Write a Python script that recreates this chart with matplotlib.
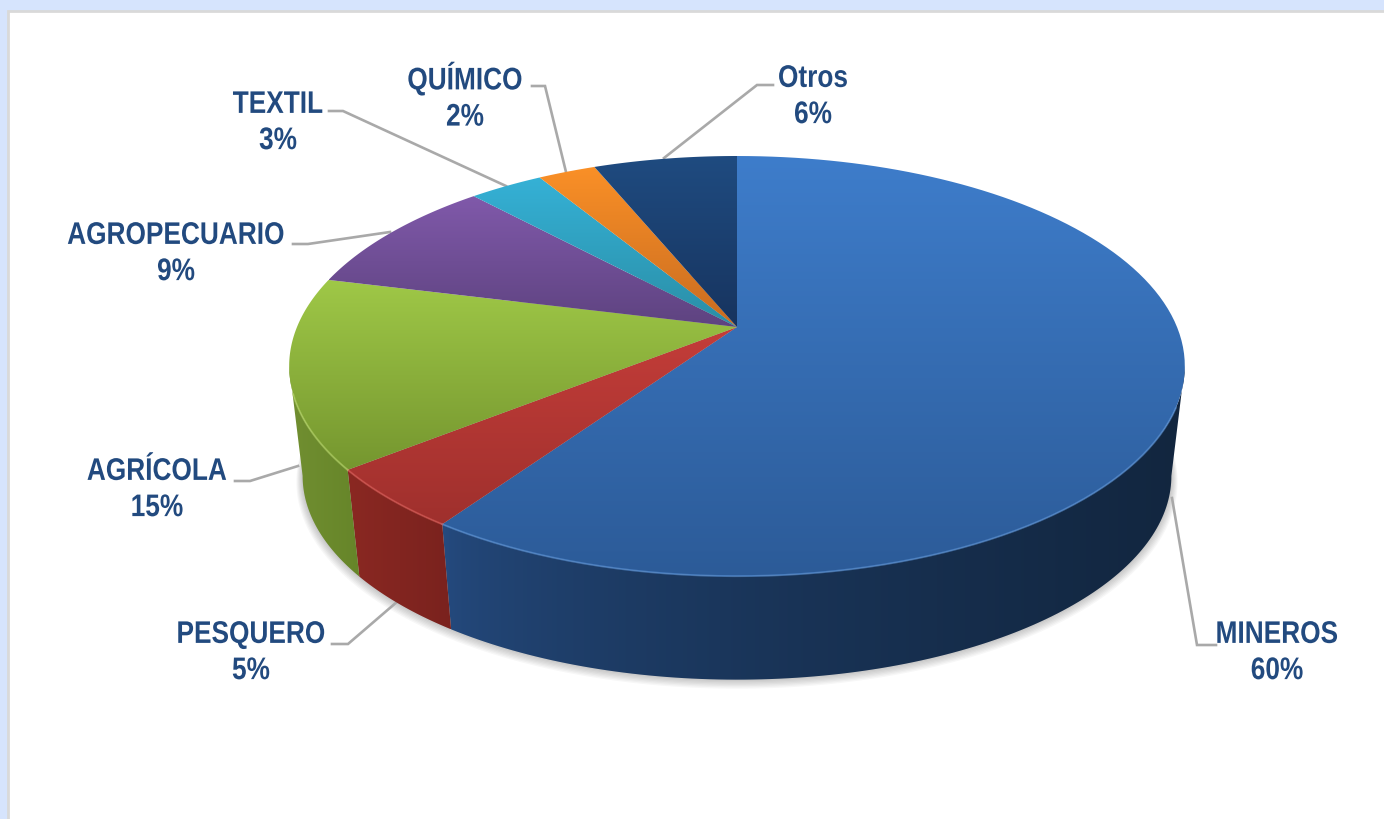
import matplotlib
matplotlib.use("Agg")
import matplotlib.pyplot as plt
from matplotlib.patches import Polygon, Rectangle
from matplotlib.patheffects import AbstractPathEffect
from matplotlib.transforms import Affine2D
import numpy as np

# share of each sector, clockwise from the top
sectores = ['MINEROS', 'PESQUERO', 'AGRÍCOLA', 'AGROPECUARIO', 'TEXTIL', 'QUÍMICO', 'Otros']
valores = [59.6, 4.7, 14.6, 9.2, 3.2, 2.5, 6.2]
etiquetas = ['60%', '5%', '15%', '9%', '3%', '2%', '6%']

# colours: top start, top end, side left, side right
top_a = ['#3e7dcb', '#c43d39', '#9fc847', '#8059aa', '#35b1d6', '#fa9027', '#1f4b80']
top_b = ['#2c5b98', '#9f302d', '#75962f', '#5e4380', '#2a8ea6', '#c96c20', '#17345f']
side_a = ['#254b80', '#8a2822', '#718f31', '#4a3366', '#206f85', '#a05518', '#102a4c']
side_b = ['#12263f', '#7a221e', '#668529', '#4a3366', '#206f85', '#a05518', '#102a4c']
rim = ['#5a93d8', '#dc5a55', '#b5d566', '#8059aa', '#35b1d6', '#fa9027', '#1f4b80']

# label centre x, centre y and leader polyline
lab_x = [1277, 251, 157, 176, 278, 465, 813]
lab_y = [653, 653, 490, 254, 123, 97, 97]
leaders = [[(1216, 645), (1197, 645), (1172, 498)],
           [(332, 644), (348, 644), (398, 601)],
           [(235, 481), (250, 481), (298, 466)],
           [(293, 244), (308, 244), (390, 232)],
           [(329, 111), (343, 111), (506, 186)],
           [(532, 86), (545, 86), (566, 172)],
           [(773, 85), (757, 85), (664, 158)]]

k = 0.186
cx = 737
fig = plt.figure(figsize=(13.84, 8.19), dpi=100)
ax = fig.add_axes([0, 0, 1, 1])
ax.set_xlim(0, 1384)
ax.set_ylim(819, 0)
ax.axis('off')
fig.patch.set_facecolor('#d6e4fd')
ax.add_patch(Rectangle((8, 11), 1400, 830, fc='white', ec='#d9d9d9', lw=2))


class Estrecha(AbstractPathEffect):
    # squeeze the glyphs sideways, no condensed bold font is installed
    def __init__(self, x0, f):
        self.x0 = x0
        self.f = f

    def draw_path(self, renderer, gc, tpath, affine, rgbFace=None):
        tr = affine + Affine2D().translate(-self.x0, 0).scale(self.f, 1).translate(self.x0, 0)
        renderer.draw_path(gc, tpath, tr, rgbFace)


def disco(t, escala, y0):
    # perspective view of the circle, t clockwise from the top
    u = np.sin(t)
    v = -np.cos(t)
    w = 1 - k * v
    return np.column_stack([cx + escala * 440 * u / w, y0 + escala * 202.8 * v / w])


def hex2rgb(c):
    return np.array(matplotlib.colors.to_rgb(c))


def degradado(pts, c1, c2, vertical=True, curva=1.0):
    xa, ya = pts.min(axis=0)
    xb, yb = pts.max(axis=0)
    s = np.linspace(0, 1, 256) ** curva
    col = hex2rgb(c1)[None, :] * (1 - s[:, None]) + hex2rgb(c2)[None, :] * s[:, None]
    img = col[:, None, :] if vertical else col[None, :, :]
    im = ax.imshow(img, extent=(xa, xb, yb, ya), origin='upper', aspect='auto', interpolation='bilinear', zorder=3)
    pol = Polygon(pts, closed=True, fc='none', ec='none', transform=ax.transData)
    ax.add_patch(pol)
    im.set_clip_path(pol)


# shadow under the pie
tt = np.linspace(0, 2 * np.pi, 400)
for i in range(8):
    sombra = disco(tt, 0.97 + i * 0.002, 438 + i * 0.8)
    ax.add_patch(Polygon(sombra, closed=True, fc='black', ec='none', alpha=0.03, zorder=2))

lim = np.cumsum([0] + valores) / 100 * 2 * np.pi

# side walls, only the part facing the viewer
t_der = np.arccos(-k)
t_izq = 2 * np.pi - t_der
for i in range(len(valores)):
    ta = max(lim[i], t_der)
    tb = min(lim[i + 1], t_izq)
    if ta >= tb:
        continue
    t = np.linspace(ta, tb, 120)
    pts = np.vstack([disco(t, 1, 327), disco(t[::-1], 0.97, 438)])
    degradado(pts, side_a[i], side_b[i], vertical=False, curva=0.6 if i == 0 else 1.0)

# tops and the light rim on the front edge
for i in range(len(valores)):
    t = np.linspace(lim[i], lim[i + 1], 120)
    pts = np.vstack([[cx, 327], disco(t, 1, 327)])
    degradado(pts, top_a[i], top_b[i])
    tf = t[(t > np.pi * 0.62) & (t < np.pi * 1.4)]
    if len(tf):
        bor = disco(tf, 1, 327)
        ax.plot(bor[:, 0], bor[:, 1], color=rim[i], lw=1.4, alpha=0.6, zorder=4)

ax.set_xlim(0, 1384)
ax.set_ylim(819, 0)

for i in range(len(sectores)):
    xs, ys = zip(*leaders[i])
    ax.plot(xs, ys, color='#a9a9a9', lw=1.9, zorder=2.5, solid_joinstyle='miter')
    ax.text(lab_x[i], lab_y[i], sectores[i] + '\n' + etiquetas[i], ha='center', va='center', color='#224a7f',
            fontsize=22.5, fontweight='bold', linespacing=1.27, family=['Liberation Sans', 'DejaVu Sans'],
            path_effects=[Estrecha(lab_x[i], 0.84)], zorder=5)

fig.savefig('out.png', dpi=100, facecolor=fig.get_facecolor())
